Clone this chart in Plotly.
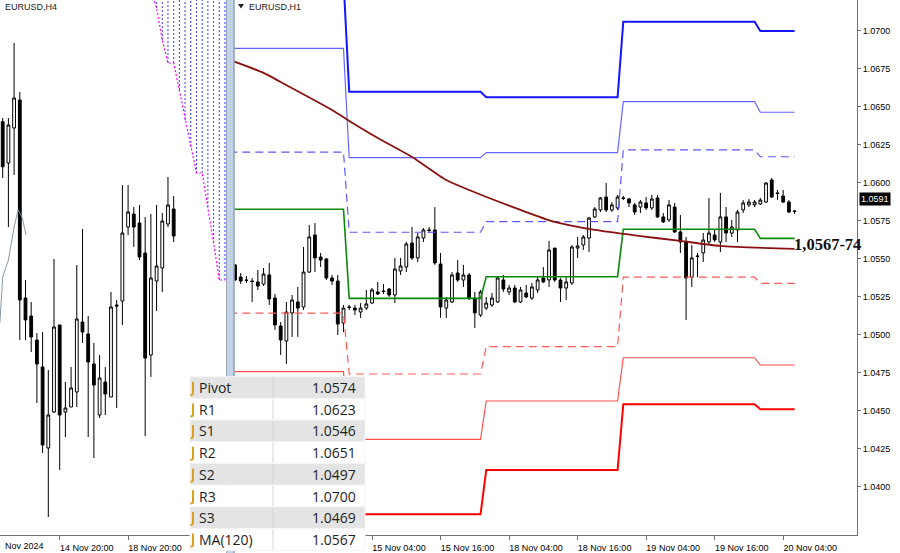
import plotly.graph_objects as go

# ---------------- H4 panel (left) ----------------
h4_open = [1.06513, 1.06348, 1.06488, 1.06600, 1.05808, 1.05736, 1.05640, 1.05532, 1.05208, 1.05352,
           1.05700, 1.05352, 1.05372, 1.05432, 1.05712, 1.05664, 1.05544, 1.05340, 1.05472, 1.05412,
           1.05780, 1.05796, 1.06092, 1.06144, 1.06108, 1.05988, 1.05580, 1.05876, 1.05928, 1.06104, 1.06164]
h4_high = [1.06528, 1.06528, 1.06828, 1.06632, 1.05880, 1.05792, 1.05668, 1.05672, 1.05520, 1.05964,
           1.05700, 1.05472, 1.05532, 1.05940, 1.06084, 1.05736, 1.05628, 1.05580, 1.05532, 1.05832,
           1.05800, 1.06260, 1.06260, 1.06172, 1.06180, 1.06132, 1.06144, 1.06180, 1.06148, 1.06292, 1.06216]
h4_low = [1.06288, 1.06092, 1.06300, 1.05640, 1.05640, 1.05592, 1.05388, 1.05188, 1.04932, 1.05348,
          1.05120, 1.05252, 1.05372, 1.05372, 1.05628, 1.05252, 1.05168, 1.05328, 1.05340, 1.05412,
          1.05368, 1.05700, 1.06060, 1.06012, 1.05960, 1.05256, 1.05492, 1.05756, 1.05832, 1.06092, 1.06032]
h4_close = [1.06333, 1.06500, 1.06608, 1.05800, 1.05720, 1.05652, 1.05544, 1.05220, 1.05340, 1.05692,
            1.05340, 1.05368, 1.05448, 1.05724, 1.05672, 1.05552, 1.05460, 1.05488, 1.05424, 1.05772,
            1.05776, 1.06068, 1.06152, 1.06092, 1.05972, 1.05568, 1.05888, 1.05936, 1.06116, 1.06180, 1.06056]
h4_tick_idx = [10, 22]
h4_tick_text = ["14 Nov 20:00", "18 Nov 20:00"]
h4_first_label = "Nov 2024"

# Ichimoku cloud fragment (span B and hatching) on H4
cloud_idx = [26, 27, 28, 29, 30, 31, 32, 33, 34, 35, 36, 37, 38, 39]
cloud_spanb = [1.07040, 1.06968, 1.06840, 1.06748, 1.06748, 1.06640, 1.06520, 1.06412,
               1.06308, 1.06308, 1.06172, 1.06028, 1.05880, 1.05880]
cloud_top = 1.0720

# thin indicator fragment on H4
h4_ind_idx = [-0.5, 0, 1, 2, 2.7, 3.4, 4.1]
h4_ind_val = [1.05708, 1.05892, 1.05960, 1.06092, 1.06160, 1.06132, 1.06060]

# ---------------- H1 panel (right) ----------------
h1_open = [1.05460, 1.05380, 1.05361, 1.05354, 1.05348, 1.05334, 1.05394, 1.05242, 1.05058, 1.04959,
           1.05144, 1.05216, 1.05183, 1.05413, 1.05657, 1.05512, 1.05499, 1.05374, 1.05354, 1.05078,
           1.05183, 1.05176, 1.05150, 1.05176, 1.05209, 1.05282, 1.05288, 1.05301, 1.05262, 1.05420,
           1.05446, 1.05604, 1.05506, 1.05637, 1.05690, 1.05690, 1.05466, 1.05176, 1.05216, 1.05407,
           1.05361, 1.05394, 1.05242, 1.05130, 1.05176, 1.05196, 1.05216, 1.05361, 1.05282, 1.05308,
           1.05216, 1.05275, 1.05242, 1.05295, 1.05374, 1.05361, 1.05571, 1.05361, 1.05308, 1.05341,
           1.05571, 1.05591, 1.05637, 1.05776, 1.05822, 1.05907, 1.05822, 1.05835, 1.05901, 1.05894,
           1.05855, 1.05841, 1.05868, 1.05835, 1.05901, 1.05776, 1.05756, 1.05841, 1.05677, 1.05611,
           1.05380, 1.05519, 1.05539, 1.05611, 1.05657, 1.05611, 1.05776, 1.05670, 1.05690, 1.05822,
           1.05855, 1.05855, 1.05861, 1.05874, 1.06019, 1.05934, 1.05914, 1.05874, 1.05815]
h1_high = [1.05466, 1.05407, 1.05387, 1.05374, 1.05427, 1.05440, 1.05473, 1.05269, 1.05084, 1.05216,
           1.05262, 1.05315, 1.05578, 1.05723, 1.05736, 1.05539, 1.05506, 1.05394, 1.05394, 1.05196,
           1.05196, 1.05196, 1.05209, 1.05295, 1.05308, 1.05348, 1.05334, 1.05308, 1.05506, 1.05506,
           1.05611, 1.05710, 1.05670, 1.05703, 1.05710, 1.05841, 1.05539, 1.05249, 1.05413, 1.05492,
           1.05460, 1.05407, 1.05282, 1.05295, 1.05249, 1.05275, 1.05380, 1.05394, 1.05328, 1.05328,
           1.05315, 1.05328, 1.05341, 1.05380, 1.05446, 1.05618, 1.05571, 1.05374, 1.05380, 1.05591,
           1.05644, 1.05657, 1.05776, 1.05841, 1.05907, 1.05999, 1.05874, 1.05920, 1.05914, 1.05901,
           1.05868, 1.05887, 1.05907, 1.05920, 1.05920, 1.05802, 1.05887, 1.05868, 1.05789, 1.05644,
           1.05591, 1.05539, 1.05670, 1.05901, 1.05690, 1.05934, 1.05841, 1.05756, 1.05822, 1.05887,
           1.05894, 1.05887, 1.05901, 1.06006, 1.06032, 1.05953, 1.05953, 1.05887, 1.05822]
h1_low = [1.05354, 1.05334, 1.05341, 1.05216, 1.05295, 1.05321, 1.05196, 1.05032, 1.04867, 1.04808,
          1.04986, 1.04986, 1.05163, 1.05407, 1.05413, 1.05446, 1.05361, 1.05328, 1.04999, 1.05018,
          1.05163, 1.05130, 1.05111, 1.05163, 1.05203, 1.05262, 1.05269, 1.05249, 1.05209, 1.05394,
          1.05413, 1.05492, 1.05479, 1.05611, 1.05670, 1.05460, 1.05111, 1.05111, 1.05209, 1.05348,
          1.05315, 1.05229, 1.05045, 1.05117, 1.05163, 1.05183, 1.05209, 1.05282, 1.05262, 1.05209,
          1.05209, 1.05242, 1.05229, 1.05275, 1.05341, 1.05315, 1.05348, 1.05216, 1.05229, 1.05328,
          1.05506, 1.05558, 1.05545, 1.05769, 1.05808, 1.05808, 1.05808, 1.05822, 1.05887, 1.05841,
          1.05789, 1.05802, 1.05822, 1.05822, 1.05769, 1.05736, 1.05743, 1.05670, 1.05539, 1.05097,
          1.05315, 1.05380, 1.05479, 1.05591, 1.05611, 1.05545, 1.05611, 1.05644, 1.05611, 1.05802,
          1.05841, 1.05841, 1.05855, 1.05868, 1.05901, 1.05887, 1.05868, 1.05802, 1.05795]
h1_close = [1.05361, 1.05354, 1.05358, 1.05351, 1.05321, 1.05400, 1.05236, 1.05065, 1.04966, 1.05150,
            1.05229, 1.05176, 1.05413, 1.05644, 1.05506, 1.05492, 1.05374, 1.05354, 1.05071, 1.05176,
            1.05180, 1.05163, 1.05176, 1.05203, 1.05295, 1.05269, 1.05285, 1.05262, 1.05433, 1.05453,
            1.05598, 1.05506, 1.05644, 1.05690, 1.05687, 1.05473, 1.05183, 1.05229, 1.05394, 1.05361,
            1.05394, 1.05242, 1.05144, 1.05282, 1.05209, 1.05242, 1.05374, 1.05301, 1.05308, 1.05216,
            1.05295, 1.05249, 1.05315, 1.05361, 1.05348, 1.05558, 1.05361, 1.05308, 1.05348, 1.05578,
            1.05585, 1.05644, 1.05769, 1.05828, 1.05901, 1.05822, 1.05855, 1.05907, 1.05898, 1.05868,
            1.05808, 1.05874, 1.05835, 1.05894, 1.05776, 1.05743, 1.05855, 1.05677, 1.05611, 1.05374,
            1.05506, 1.05516, 1.05624, 1.05670, 1.05624, 1.05776, 1.05670, 1.05710, 1.05808, 1.05868,
            1.05874, 1.05874, 1.05887, 1.05999, 1.05907, 1.05930, 1.05874, 1.05808, 1.05812]
h1_tick_idx = [24, 36, 48, 60, 72, 84, 96]
h1_tick_text = ["15 Nov 04:00", "15 Nov 16:00", "18 Nov 04:00", "18 Nov 16:00",
                "19 Nov 04:00", "19 Nov 16:00", "20 Nov 04:00"]
price_ticks = [1.0400, 1.0425, 1.0450, 1.0475, 1.0500, 1.0525, 1.0550, 1.0575,
               1.0600, 1.0625, 1.0650, 1.0675, 1.0700]
last_price = 1.0591

# daily pivot levels (one value per day)
day_start = [-1, 20, 44, 68, 92]
day_end = [19, 43, 67, 91, 98]
lvl_r3 = [1.07336, 1.06600, 1.06564, 1.07061, 1.07000]
lvl_r2 = [1.06886, 1.06166, 1.06199, 1.06535, 1.06465]
lvl_r1 = [1.06203, 1.05675, 1.05745, 1.06217, 1.06172]
lvl_pivot = [1.05826, 1.05240, 1.05382, 1.05695, 1.05635]
lvl_s1 = [1.05142, 1.04742, 1.04922, 1.05379, 1.05339]
lvl_s2 = [1.04757, 1.04312, 1.04564, 1.04849, 1.04801]
lvl_s3 = [1.04373, 1.03818, 1.04110, 1.04542, 1.04510]

# MA(120)
ma_idx = [-1, 5, 8, 17, 20, 25, 31, 37, 41, 50, 56, 63, 71, 78, 85, 98]
ma_val = [1.06810, 1.06724, 1.06664, 1.06480, 1.06408, 1.06296, 1.06171, 1.06019, 1.05953,
          1.05822, 1.05743, 1.05690, 1.05650, 1.05618, 1.05585, 1.05565]

level_label = "1,0567-74"

# table
table_names = ["Pivot", "R1", "S1", "R2", "S2", "R3", "S3", "MA(120)"]
table_values = ["1.0574", "1.0623", "1.0546", "1.0651", "1.0497", "1.0700", "1.0469", "1.0567"]

# ---------------- figure ----------------
W, H = 900, 553
PH = 535  # plot area height in px (bottom margin 18)


def px(x):
    return x / W


def py(y):
    return (PH - y) / PH


fig = go.Figure()

candle_style = dict(
    increasing=dict(fillcolor="white", line=dict(color="black", width=1)),
    decreasing=dict(fillcolor="black", line=dict(color="black", width=1)),
    whiskerwidth=0, showlegend=False, hoverinfo="skip",
)

# H4 cloud hatching
hx, hy = [], []
for i, v in zip(cloud_idx, cloud_spanb):
    hx += [i, i, None]
    hy += [v, cloud_top, None]
fig.add_trace(go.Scatter(x=hx, y=hy, mode="lines", xaxis="x", yaxis="y",
                         line=dict(color="#3a3aff", width=1, dash="2px,2px"),
                         showlegend=False, hoverinfo="skip"))
fig.add_trace(go.Scatter(x=cloud_idx, y=cloud_spanb, mode="lines", xaxis="x", yaxis="y",
                         line=dict(color="#ff00ff", width=1.2, dash="2px,2px"),
                         showlegend=False, hoverinfo="skip"))
fig.add_trace(go.Scatter(x=h4_ind_idx, y=h4_ind_val, mode="lines", xaxis="x", yaxis="y",
                         line=dict(color="#8899aa", width=1), showlegend=False, hoverinfo="skip"))
fig.add_trace(go.Candlestick(x=list(range(len(h4_open))), open=h4_open, high=h4_high,
                             low=h4_low, close=h4_close, xaxis="x", yaxis="y", **candle_style))


def level_xy(vals):
    xs, ys = [], []
    for s, e, v in zip(day_start, day_end, vals):
        xs += [s, e]
        ys += [v, v]
    return xs, ys


levels = [
    (lvl_r3, dict(color="#1414ff", width=2)),
    (lvl_r2, dict(color="#6666ff", width=1.2)),
    (lvl_r1, dict(color="#5a5aff", width=1.2, dash="8px,5px")),
    (lvl_s1, dict(color="#ff5a5a", width=1.2, dash="8px,5px")),
    (lvl_s2, dict(color="#ff5050", width=1.2)),
    (lvl_s3, dict(color="#ff0000", width=2)),
    (lvl_pivot, dict(color="#0a8a0a", width=1.6)),
]
for vals, ln in levels:
    xs, ys = level_xy(vals)
    fig.add_trace(go.Scatter(x=xs, y=ys, mode="lines", xaxis="x2", yaxis="y2", line=ln,
                             showlegend=False, hoverinfo="skip"))

fig.add_trace(go.Scatter(x=ma_idx, y=ma_val, mode="lines", xaxis="x2", yaxis="y2",
                         line=dict(color="#8b1010", width=1.8, shape="spline", smoothing=0.6),
                         showlegend=False, hoverinfo="skip"))

fig.add_trace(go.Candlestick(x=list(range(len(h1_open))), open=h1_open, high=h1_high,
                             low=h1_low, close=h1_close, xaxis="x2", yaxis="y2", **candle_style))

tickfont = dict(family="Liberation Sans, Arial, sans-serif", size=9, color="#000")
axis_line = "#707070"

fig.update_layout(
    width=W, height=H,
    margin=dict(l=0, r=0, t=0, b=H - PH),
    paper_bgcolor="white", plot_bgcolor="white",
    showlegend=False, hovermode=False,
    xaxis=dict(domain=[0, px(226)], range=[-0.474, 39.18], showgrid=False, zeroline=False,
               showline=True, linecolor=axis_line, linewidth=1, ticks="outside", ticklen=4,
               tickcolor=axis_line, tickvals=h4_tick_idx, ticktext=h4_tick_text,
               ticklabelshift=27, tickfont=tickfont, rangeslider=dict(visible=False),
               anchor="y", fixedrange=True, automargin=False),
    yaxis=dict(domain=[0, 1], range=[1.0486, 1.0700], visible=False, anchor="x",
               fixedrange=True),
    xaxis2=dict(domain=[px(234), px(857)], range=[-0.175, 108.93], showgrid=False,
                zeroline=False, showline=True, linecolor=axis_line, linewidth=1,
                ticks="outside", ticklen=4, tickcolor=axis_line, tickvals=h1_tick_idx,
                ticktext=h1_tick_text, ticklabelshift=27, tickfont=tickfont,
                rangeslider=dict(visible=False), anchor="y2", fixedrange=True,
                automargin=False),
    yaxis2=dict(domain=[0, 1], range=[1.03682, 1.07204], side="right", anchor="x2",
                showgrid=False, zeroline=False, showline=True, linecolor=axis_line,
                linewidth=1, ticks="outside", ticklen=3, tickcolor=axis_line,
                tickvals=price_ticks, ticktext=["%.4f" % v for v in price_ticks],
                tickfont=tickfont, fixedrange=True, automargin=False),
)

shapes = []
annotations = []

# separator between the two charts
shapes.append(dict(type="rect", xref="paper", yref="paper", x0=px(226), x1=px(234.5),
                   y0=py(H), y1=1, fillcolor="#c3d4ea", line=dict(width=0), layer="above"))
shapes.append(dict(type="line", xref="paper", yref="paper", x0=px(226.5), x1=px(226.5),
                   y0=py(H), y1=1, line=dict(color="#9aa6b6", width=1), layer="above"))
shapes.append(dict(type="line", xref="paper", yref="paper", x0=px(234), x1=px(234),
                   y0=py(H), y1=1, line=dict(color="#8791a0", width=1.2), layer="above"))

# small triangle before H1 title
shapes.append(dict(type="path", xref="paper", yref="paper",
                   path="M %f,%f L %f,%f L %f,%f Z" % (px(238), py(4), px(244), py(4), px(241), py(8.5)),
                   fillcolor="#222", line=dict(width=0), layer="above"))

title_font = dict(family="Liberation Sans, Arial, sans-serif", size=9, color="#222")
annotations.append(dict(text="EURUSD,H4", x=px(3), y=py(6.5), xref="paper", yref="paper",
                        xanchor="left", yanchor="middle", showarrow=False, font=title_font))
annotations.append(dict(text="EURUSD,H1", x=px(247), y=py(6.5), xref="paper", yref="paper",
                        xanchor="left", yanchor="middle", showarrow=False, font=title_font))
annotations.append(dict(text=h4_first_label, x=px(3), y=py(546), xref="paper", yref="paper",
                        xanchor="left", yanchor="middle", showarrow=False, font=tickfont))

# level label next to the lines
annotations.append(dict(text="<b>%s</b>" % level_label, x=px(793), y=py(244), xref="paper",
                        yref="paper", xanchor="left", yanchor="middle", showarrow=False,
                        borderpad=0,
                        font=dict(family="Liberation Serif, Times New Roman, serif", size=16.5,
                                  color="#111")))

# current price box
annotations.append(dict(text="%.4f" % last_price, x=px(858.5), y=last_price, xref="paper",
                        yref="y2", yshift=-2, xanchor="left", yanchor="middle",
                        showarrow=False, bgcolor="#000", borderpad=1,
                        font=dict(family="Liberation Sans, Arial, sans-serif", size=9,
                                  color="#fff")))

# table
t_x0, t_x1, t_xm = 190, 365, 273
row_h = 21.7
row_top0 = 376.7
for k, (nm, val) in enumerate(zip(table_names, table_values)):
    r0 = row_top0 + k * row_h
    r1 = r0 + row_h
    fill = "#e4e4e4" if k % 2 == 0 else "#ffffff"
    shapes.append(dict(type="rect", xref="paper", yref="paper", x0=px(t_x0), x1=px(t_x1),
                       y0=py(r1), y1=py(r0), fillcolor=fill,
                       line=dict(color="#f4f4f4", width=1), layer="above"))
    shapes.append(dict(type="line", xref="paper", yref="paper", x0=px(t_xm), x1=px(t_xm),
                       y0=py(r1 - 1), y1=py(r0 + 1), line=dict(color="#d4d4d4", width=1),
                       layer="above"))
    ix = 193
    shapes.append(dict(type="path", xref="paper", yref="paper",
                       path="M %f,%f L %f,%f Q %f,%f %f,%f" % (
                           px(ix), py(r0 + 5), px(ix), py(r1 - 6),
                           px(ix), py(r1 - 3.5), px(ix - 2.5), py(r1 - 3.5)),
                       line=dict(color="#d6a21e", width=2), layer="above"))
    annotations.append(dict(text=nm, x=px(197), y=py(r0 + row_h / 2), xref="paper",
                            yref="paper", xanchor="left", yanchor="middle", showarrow=False,
                            font=dict(family="Open Sans, Noto Sans, sans-serif", size=14,
                                      color="#1e1e1e")))
    annotations.append(dict(text=val, x=px(358), y=py(r0 + row_h / 2), xref="paper",
                            yref="paper", xanchor="right", yanchor="middle", showarrow=False,
                            font=dict(family="Open Sans, Noto Sans, sans-serif", size=14,
                                      color="#1e1e1e")))

fig.update_layout(shapes=shapes, annotations=annotations)

fig.write_html("out.html",
               config={"displayModeBar": False, "staticPlot": True},
               post_script="document.body.style.margin='0px';"
                           "document.documentElement.style.overflow='hidden';"
                           "document.body.style.overflow='hidden';")
